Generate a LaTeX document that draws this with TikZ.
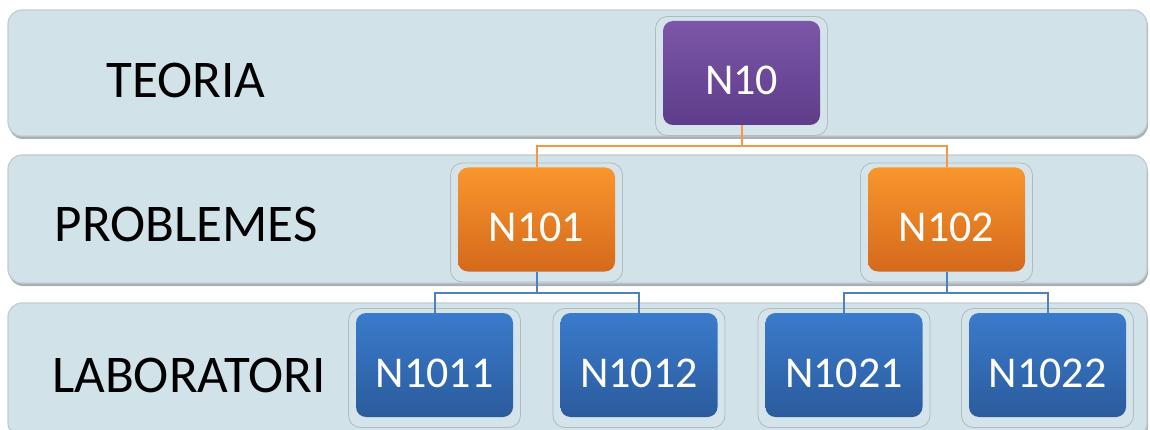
\documentclass[tikz,border=0pt]{standalone}
\usepackage{fontspec}
\setmainfont{Carlito}
\definecolor{bandfill}{HTML}{D2E2E9}
\definecolor{bandline}{HTML}{C4CBCF}
\definecolor{bandshadow}{HTML}{A9B0B4}
\definecolor{halofill}{HTML}{D5E4EA}
\definecolor{haloline}{HTML}{B0BBC0}
\definecolor{purtop}{HTML}{7C56A8}
\definecolor{purbot}{HTML}{5E3D8A}
\definecolor{orgtop}{HTML}{F9962C}
\definecolor{orgbot}{HTML}{D4691C}
\definecolor{blutop}{HTML}{3A7BCC}
\definecolor{blubot}{HTML}{2B5B9D}
\definecolor{orgline}{HTML}{F79646}
\definecolor{bluline}{HTML}{4F81BD}
\tikzset{
  band/.style={fill=bandfill, draw=bandline, line width=1.2pt, rounded corners=14pt},
  bandshade/.style={fill=bandshadow, rounded corners=14pt},
  rowlabel/.style={anchor=base, font=\fontsize{53}{60}\selectfont, text=black, inner sep=0pt},
  halo/.style={draw=haloline, fill=halofill, line width=0.8pt, rounded corners=12pt,
    minimum width=172pt, minimum height=119pt, inner sep=0pt},
  box/.style={rounded corners=10pt, minimum width=157pt, minimum height=104pt,
    inner sep=0pt, text=white, font=\fontsize{44}{50}\selectfont,
    text height=44pt, text depth=0pt},
  purplebox/.style={box, top color=purtop, bottom color=purbot},
  orangebox/.style={box, top color=orgtop, bottom color=orgbot},
  bluebox/.style={box, top color=blutop, bottom color=blubot},
  oline/.style={draw=orgline, line width=2pt},
  bline/.style={draw=bluline, line width=2pt},
}
\begin{document}
\begin{tikzpicture}[x=1pt,y=-1pt]
\useasboundingbox (0,0) rectangle (1150,430);
% bands
\fill[bandshade] (9,13) rectangle (1148,139);
\draw[band] (8,10) rectangle (1147,136);
\fill[bandshade] (9,158) rectangle (1148,286);
\draw[band] (8,155) rectangle (1147,283);
\fill[bandshade] (9,306) rectangle (1148,440);
\draw[band] (8,303) rectangle (1147,437);
% row labels
\node[rowlabel] (lt) at (186,98) {TEORIA};
\node[rowlabel] (lp) at (186,242) {PROBLEMES};
\node[rowlabel] (ll) at (189,392) {LABORATORI};
% halos
\node[halo] (h10) at (741.5,76) {};
\node[halo] (h101) at (536.5,222.5) {};
\node[halo] (h102) at (946.5,222.5) {};
\node[halo] (h1011) at (434.5,368) {};
\node[halo] (h1012) at (639,368) {};
\node[halo] (h1021) at (844,368) {};
\node[halo] (h1022) at (1047.5,368) {};
% nodes
\node[purplebox] (n10) at (741.5,73) {N10};
\node[orangebox] (n101) at (536.5,219.5) {N101};
\node[orangebox] (n102) at (946.5,219.5) {N102};
\node[bluebox] (n1011) at (434.5,365) {N1011};
\node[bluebox] (n1012) at (639,365) {N1012};
\node[bluebox] (n1021) at (844,365) {N1021};
\node[bluebox] (n1022) at (1047.5,365) {N1022};
% connectors
\draw[oline] (n10.south) -- ++(0,21) -| (n101.north);
\draw[oline] (n10.south) -- ++(0,21) -| (n102.north);
\draw[bline] (n101.south) -- ++(0,21) -| (n1011.north);
\draw[bline] (n101.south) -- ++(0,21) -| (n1012.north);
\draw[bline] (n102.south) -- ++(0,21) -| (n1021.north);
\draw[bline] (n102.south) -- ++(0,21) -| (n1022.north);
\end{tikzpicture}
\end{document}
